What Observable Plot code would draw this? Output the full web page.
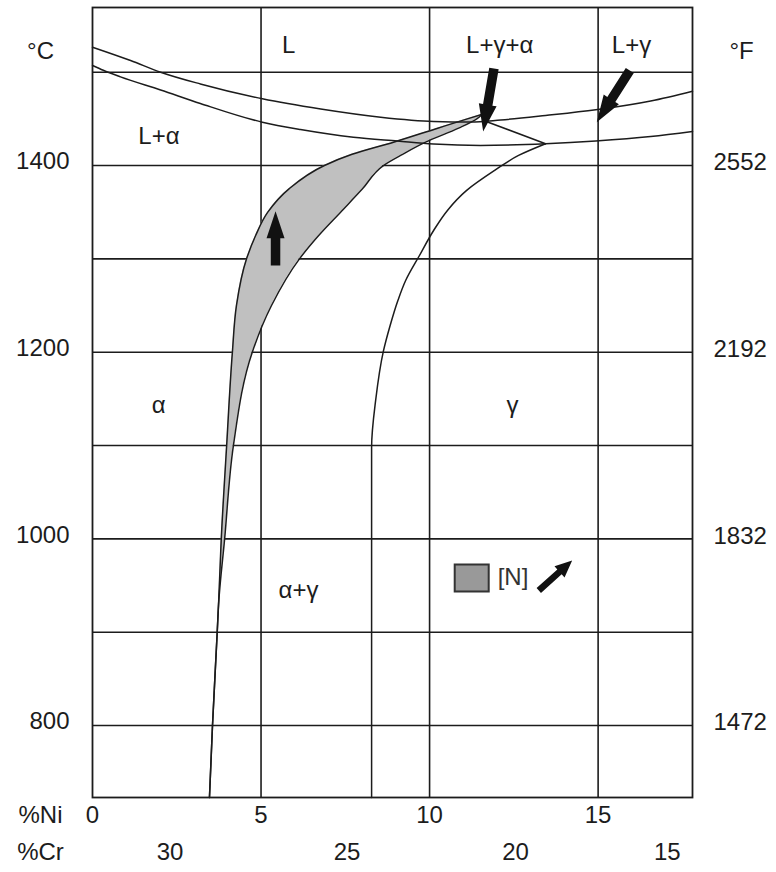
<!DOCTYPE html>
<html>
<head>
<meta charset="utf-8">
<script src="https://cdn.jsdelivr.net/npm/d3@7"></script>
<script src="https://cdn.jsdelivr.net/npm/@observablehq/plot@0.6"></script>
<style>
  body { margin: 0; background: #fff; }
  #chart { width: 776px; height: 872px; }
</style>
</head>
<body>
<div id="chart"></div>
<script>
// Fe–Cr–Ni section: composition (%Ni, with %Cr falling) against temperature (°C)

// Axis ticks
const niTicks = [0, 5, 10, 15];
const crTicks = [30, 25, 20, 15];
const crTickAtNi = [2.3, 7.55, 12.55, 17.05];
const celsiusTicks = [800, 1000, 1200, 1400];
const fahrenheitTicks = [1472, 1832, 2192, 2552];
const celsiusGrid = [800, 900, 1000, 1100, 1200, 1300, 1400, 1500];
const niGrid = [5, 10, 15];

// Phase boundaries as [%Ni, °C]
const liquidus = [
  [0, 1526.8], [1.13, 1512.5], [2.02, 1500], [3.2, 1487.4], [5.04, 1471.5],
  [6.77, 1460.6], [8.55, 1451.8], [10.12, 1447.2], [11.22, 1446.6], [12.11, 1448.8],
  [13.44, 1453.6], [14.93, 1459.7], [16.56, 1469.1], [17.8, 1479.6]
];
const solidus = [
  [0, 1507.2], [0.32, 1502], [0.83, 1495], [2.02, 1481], [3.2, 1466.5],
  [5.04, 1446.4], [6.17, 1438.6], [7.74, 1430.4], [9.05, 1426.3], [10.12, 1423.1],
  [11.51, 1421.5], [13.44, 1423.3], [14.93, 1426.3], [16.56, 1431.1], [17.8, 1436.5]
];
const gammaSolvus = [
  [8.28, 722.9], [8.28, 1000], [8.28, 1097.9], [8.4, 1148.3], [8.63, 1201.1],
  [8.83, 1228.6], [9.06, 1255.4], [9.29, 1276.8], [9.7, 1303.6], [10.12, 1330.4],
  [10.53, 1351.9], [11.1, 1373.3], [11.93, 1394.7], [12.64, 1410.8], [13.44, 1423.3]
];
const threePhaseEdge = [[11.6, 1448.3], [13.44, 1423.3]];

// Shaded band: temperature, low-Ni edge, high-Ni edge (%Ni)
const bandT =  [722.9, 800, 900, 930, 1000, 1100, 1200, 1250, 1300, 1325, 1350, 1375, 1400, 1412, 1425, 1440, 1450, 1455];
const bandLo = [3.47, 3.56, 3.7, 3.74, 3.82, 3.98, 4.15, 4.27, 4.57, 4.84, 5.2, 5.83, 6.88, 7.7, 8.93, 10.24, 11.12, 11.57];
const bandHi = [3.47, 3.56, 3.7, 3.74, 3.92, 4.18, 4.74, 5.31, 6.14, 6.71, 7.36, 8.01, 8.63, 9.2, 9.88, 10.86, 11.4, 11.57];
const band = bandT.map((T, i) => ({T, lo: bandLo[i], hi: bandHi[i]}));

// Phase field labels: text, %Ni, °C
const phaseText = ["L", "L+γ+α", "L+γ", "L+α", "α", "γ", "α+γ"];
const phaseNi   = [5.82, 12.08, 15.99, 1.97, 1.96, 12.46, 6.11];
const phaseT    = [1528.6, 1528.6, 1528.6, 1431.1, 1142.9, 1142.9, 944.7];
const phases = phaseText.map((text, i) => ({text, x: phaseNi[i], y: phaseT[i]}));

// Arrows: tail and tip as [%Ni, °C]
const arrowTail = [[5.43, 1292.9], [11.91, 1504], [15.94, 1501.8], [13.24, 944.7]];
const arrowTip  = [[5.43, 1351.1], [11.59, 1436.5], [14.96, 1446.4], [14.23, 976.8]];
const arrowKind = ["large", "large", "large", "small"];

// Key entry
const keyLabel = "[N]";
const keyAt = [11.25, 958.1];
const keyTextAt = [12.02, 958.6];

// Layout
const W = 776, H = 872;
const margin = {top: 7, right: 84, bottom: 75, left: 92};
const xDomain = [0, 17.8];
const yDomain = [722.9, 1569.3];
const ink = "#1c1c1c";
const font = "'Liberation Sans', Arial, Helvetica, sans-serif";
const fs = 24;

// Same mapping Plot uses, for sizing the arrow glyphs in screen space
const sx = d3.scaleLinear(xDomain, [margin.left, W - margin.right]);
const sy = d3.scaleLinear(yDomain, [H - margin.bottom, margin.top]);

const arrowStyle = {
  large: {shaft: 9.5, headW: 18, headL: 27},
  small: {shaft: 6.5, headW: 15, headL: 17}
};

// Block arrow drawn with its tip at the symbol origin; r gives the length.
function blockArrow(angle, {shaft, headW, headL}) {
  const ux = Math.cos(angle), uy = Math.sin(angle);
  const nx = -uy, ny = ux;
  return {
    draw(ctx, size) {
      const len = Math.sqrt(size / Math.PI);
      const pts = [
        [0, 0], [-headL, headW / 2], [-headL, shaft / 2], [-len, shaft / 2],
        [-len, -shaft / 2], [-headL, -shaft / 2], [-headL, -headW / 2]
      ];
      pts.forEach(([a, c], i) => {
        const X = a * ux + c * nx, Y = a * uy + c * ny;
        if (i) ctx.lineTo(X, Y); else ctx.moveTo(X, Y);
      });
      ctx.closePath();
    }
  };
}

function swatch(w, h) {
  return { draw(ctx) { ctx.rect(-w / 2, -h / 2, w, h); } };
}

const arrowMarks = arrowTip.map((tip, i) => {
  const tail = arrowTail[i];
  const dx = sx(tip[0]) - sx(tail[0]);
  const dy = sy(tip[1]) - sy(tail[1]);
  const len = Math.hypot(dx, dy);
  return Plot.dot([tip], {
    x: d => d[0], y: d => d[1],
    r: len,
    symbol: blockArrow(Math.atan2(dy, dx), arrowStyle[arrowKind[i]]),
    fill: "#111", stroke: "none"
  });
});

const curve = (pts, shape) => Plot.line(pts, {
  x: d => d[0], y: d => d[1], curve: shape,
  stroke: ink, strokeWidth: 1.5
});

const chart = Plot.plot({
  width: W,
  height: H,
  marginTop: margin.top,
  marginRight: margin.right,
  marginBottom: margin.bottom,
  marginLeft: margin.left,
  x: {domain: xDomain, axis: null},
  y: {domain: yDomain, axis: null},
  style: {fontFamily: font, fontSize: fs + "px", color: ink, background: "#fff"},
  marks: [
    // grid
    Plot.ruleX(niGrid, {x: d => d, stroke: ink, strokeWidth: 1.6}),
    Plot.ruleY(celsiusGrid, {y: d => d, stroke: ink, strokeWidth: 1.6}),

    // shaded band and its edges
    Plot.areaX(band, {y: "T", x1: "lo", x2: "hi", fill: "#c0c0c0", curve: "monotone-y"}),
    Plot.line(band, {x: "lo", y: "T", curve: "monotone-y", stroke: ink, strokeWidth: 1.5}),
    Plot.line(band, {x: "hi", y: "T", curve: "monotone-y", stroke: ink, strokeWidth: 1.5}),

    // phase boundaries
    curve(liquidus, "monotone-x"),
    curve(solidus, "monotone-x"),
    curve(gammaSolvus, "monotone-y"),
    curve(threePhaseEdge, "linear"),

    Plot.frame({stroke: ink, strokeWidth: 1.8}),

    // arrows
    ...arrowMarks,

    // key
    Plot.dot([keyAt], {x: d => d[0], y: d => d[1], r: 1, symbol: swatch(34, 27),
      fill: "#999", stroke: "#333", strokeWidth: 2}),
    Plot.text([keyTextAt], {x: d => d[0], y: d => d[1], text: () => keyLabel,
      textAnchor: "start", fontSize: fs, fill: "#333"}),

    // phase field labels
    Plot.text(phases, {x: "x", y: "y", text: "text", fontSize: fs, fill: ink}),

    // temperature scales
    Plot.text(celsiusTicks, {y: d => d, text: d => String(d), frameAnchor: "left",
      dx: -23, dy: -4, textAnchor: "end", fontSize: fs, fill: ink}),
    Plot.text(fahrenheitTicks, {y: d => (d - 32) * 5 / 9, text: d => String(d),
      frameAnchor: "right", dx: 21, dy: -3, textAnchor: "start", fontSize: fs, fill: ink}),
    Plot.text(["°C"], {text: d => d, frameAnchor: "top-left", dx: -52, dy: 34,
      textAnchor: "middle", fontSize: fs, fill: ink}),
    Plot.text(["°F"], {text: d => d, frameAnchor: "top-right", dx: 49, dy: 34,
      textAnchor: "middle", fontSize: fs, fill: ink}),

    // composition scales
    Plot.text(niTicks, {x: d => d, text: d => String(d), frameAnchor: "bottom",
      dy: 25, fontSize: fs, fill: ink}),
    Plot.text(crTicks, {x: (d, i) => crTickAtNi[i], text: d => String(d),
      frameAnchor: "bottom", dy: 62, fontSize: fs, fill: ink}),
    Plot.text(["%Ni"], {text: d => d, frameAnchor: "bottom-left", dx: -52, dy: 25,
      textAnchor: "middle", fontSize: fs, fill: ink}),
    Plot.text(["%Cr"], {text: d => d, frameAnchor: "bottom-left", dx: -52, dy: 62,
      textAnchor: "middle", fontSize: fs, fill: ink})
  ]
});

document.getElementById("chart").appendChild(chart);
</script>
</body>
</html>
